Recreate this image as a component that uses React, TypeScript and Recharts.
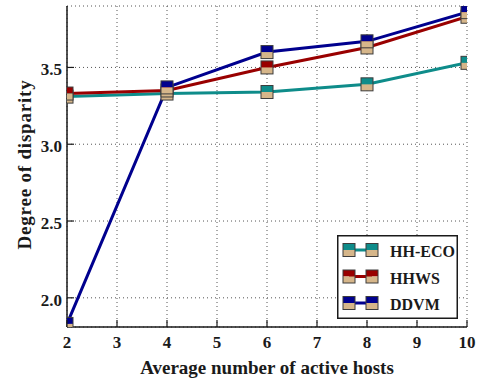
import React from 'react';
import { LineChart, Line, XAxis, YAxis, CartesianGrid, Legend } from 'recharts';

// Average number of active hosts
const hosts = [2, 4, 6, 8, 10];
// Degree of disparity per placement scheme
const hhEco = [3.31, 3.33, 3.34, 3.39, 3.53];
const hhws = [3.33, 3.35, 3.5, 3.63, 3.83];
const ddvm = [1.83, 3.37, 3.6, 3.67, 3.86];

const xTicks = [2, 3, 4, 5, 6, 7, 8, 9, 10];
const yTicks = [2.0, 2.5, 3.0, 3.5];

const series = [
  { key: 'hhEco', name: 'HH-ECO', color: '#0e8c8a' },
  { key: 'hhws', name: 'HHWS', color: '#990000' },
  { key: 'ddvm', name: 'DDVM', color: '#00008e' },
];

const data = hosts.map((h, i) => ({ hosts: h, hhEco: hhEco[i], hhws: hhws[i], ddvm: ddvm[i] }));

const FONT = '"Liberation Serif", "DejaVu Serif", serif';
const TAN = '#d6b68a';
const EDGE = '#3c3c3c';
const INK = '#1a1a1a';

// Square marker: upper half in series colour, lower half tan
function HalfSquare({ cx, cy, color }: { cx: number; cy: number; color: string }) {
  const w = 12;
  const h = 13;
  return (
    <g>
      <rect x={cx - w / 2} y={cy - h / 2} width={w} height={h / 2} fill={color} />
      <rect x={cx - w / 2} y={cy} width={w} height={h / 2} fill={TAN} />
      <rect x={cx - w / 2} y={cy - h / 2} width={w} height={h} fill="none" stroke={EDGE} strokeWidth={1} />
    </g>
  );
}

const BottomTick = (p: any) => (
  <g>
    <line x1={p.x} y1={p.y} x2={p.x} y2={p.y - 7} stroke={INK} strokeWidth={1.2} />
    <text x={p.x} y={p.y + 21} textAnchor="middle" fontFamily={FONT} fontWeight="bold" fontSize={17} fill={INK}>
      {p.payload.value}
    </text>
  </g>
);

const TopTick = (p: any) => (
  <line x1={p.x} y1={p.y} x2={p.x} y2={p.y + 7} stroke={INK} strokeWidth={1.2} />
);

const LeftTick = (p: any) => (
  <g>
    <line x1={p.x} y1={p.y} x2={p.x + 7} y2={p.y} stroke={INK} strokeWidth={1.2} />
    <text x={p.x - 5} y={p.y + 8} textAnchor="end" fontFamily={FONT} fontWeight="bold" fontSize={17} fill={INK}>
      {Number(p.payload.value).toFixed(1)}
    </text>
  </g>
);

const RightTick = (p: any) => (
  <line x1={p.x} y1={p.y} x2={p.x - 7} y2={p.y} stroke={INK} strokeWidth={1.2} />
);

// Legend entries kept in series order
const LegendBox = (props: any) => {
  const payload = props.payload || [];
  const items = series
    .map((s) => payload.find((it: any) => it.value === s.name))
    .filter(Boolean);
  return (
    <svg width={121} height={84} style={{ display: 'block' }}>
      <rect x={0.75} y={0.75} width={119.5} height={82.5} fill="#fff" stroke={INK} strokeWidth={1.5} />
      {items.map((it: any, i: number) => {
        const cy = 15 + i * 26.5;
        const color = it.color;
        return (
          <g key={it.value}>
            <line x1={12} y1={cy} x2={35} y2={cy} stroke={color} strokeWidth={3} />
            <HalfSquare cx={12} cy={cy} color={color} />
            <HalfSquare cx={35} cy={cy} color={color} />
            <text x={53} y={cy + 7} fontFamily={FONT} fontWeight="bold" fontSize={16} fill={INK}>
              {it.value}
            </text>
          </g>
        );
      })}
    </svg>
  );
};

export default function App() {
  return (
    <div style={{ position: 'absolute', left: 0, top: 0, width: 479, height: 380, background: '#fff' }}>
      <LineChart width={479} height={380} data={data} margin={{ top: 6, right: 12, bottom: 0, left: 0 }}>
        <CartesianGrid stroke="#555" strokeDasharray="1 3" strokeWidth={1} />
        <XAxis
          dataKey="hosts"
          type="number"
          domain={[2, 10]}
          ticks={xTicks}
          interval={0}
          allowDataOverflow
          height={53}
          tickSize={0}
          tickMargin={0}
          tickLine={false}
          tick={<BottomTick />}
          axisLine={{ stroke: INK, strokeWidth: 1.5 }}
          label={{
            content: (lp: any) => {
              const vb = lp.viewBox;
              return (
                <text x={vb.x + vb.width / 2} y={vb.y + 47} textAnchor="middle" fontFamily={FONT} fontWeight="bold" fontSize={19} fill={INK}>
                  Average number of active hosts
                </text>
              );
            },
          }}
        />
        <XAxis
          xAxisId="top"
          orientation="top"
          dataKey="hosts"
          type="number"
          domain={[2, 10]}
          ticks={xTicks}
          interval={0}
          height={0}
          tickSize={0}
          tickMargin={0}
          tickLine={false}
          tick={<TopTick />}
          axisLine={{ stroke: INK, strokeWidth: 1.5 }}
        />
        <YAxis
          type="number"
          domain={[1.81, 3.9]}
          ticks={yTicks}
          interval={0}
          allowDataOverflow
          width={67}
          tickSize={0}
          tickMargin={0}
          tickLine={false}
          tick={<LeftTick />}
          axisLine={{ stroke: INK, strokeWidth: 1.5 }}
          label={{
            content: (lp: any) => {
              const vb = lp.viewBox;
              const cx = vb.x + 31;
              const cy = vb.y + vb.height / 2 - 2;
              return (
                <text
                  x={cx}
                  y={cy}
                  transform={`rotate(-90 ${cx} ${cy})`}
                  textAnchor="middle"
                  fontFamily={FONT}
                  fontWeight="bold"
                  fontSize={19}
                  letterSpacing={0.8}
                  fill={INK}
                >
                  Degree of disparity
                </text>
              );
            },
          }}
        />
        <YAxis
          yAxisId="right"
          orientation="right"
          type="number"
          domain={[1.81, 3.9]}
          ticks={yTicks}
          interval={0}
          width={0}
          tickSize={0}
          tickMargin={0}
          tickLine={false}
          tick={<RightTick />}
          axisLine={{ stroke: INK, strokeWidth: 1.5 }}
        />
        {series.map((s) => (
          <Line
            key={s.key}
            dataKey={s.key}
            name={s.name}
            stroke={s.color}
            strokeWidth={3}
            isAnimationActive={false}
            dot={(dp: any) => <HalfSquare key={`${s.key}-${dp.index}`} cx={dp.cx} cy={dp.cy} color={s.color} />}
            activeDot={false}
          />
        ))}
        <Legend
          layout="vertical"
          align="center"
          verticalAlign="middle"
          content={<LegendBox />}
          wrapperStyle={{ position: 'absolute', left: 337, top: 235, bottom: 'auto', right: 'auto', width: 121, height: 84 }}
        />
      </LineChart>
    </div>
  );
}
